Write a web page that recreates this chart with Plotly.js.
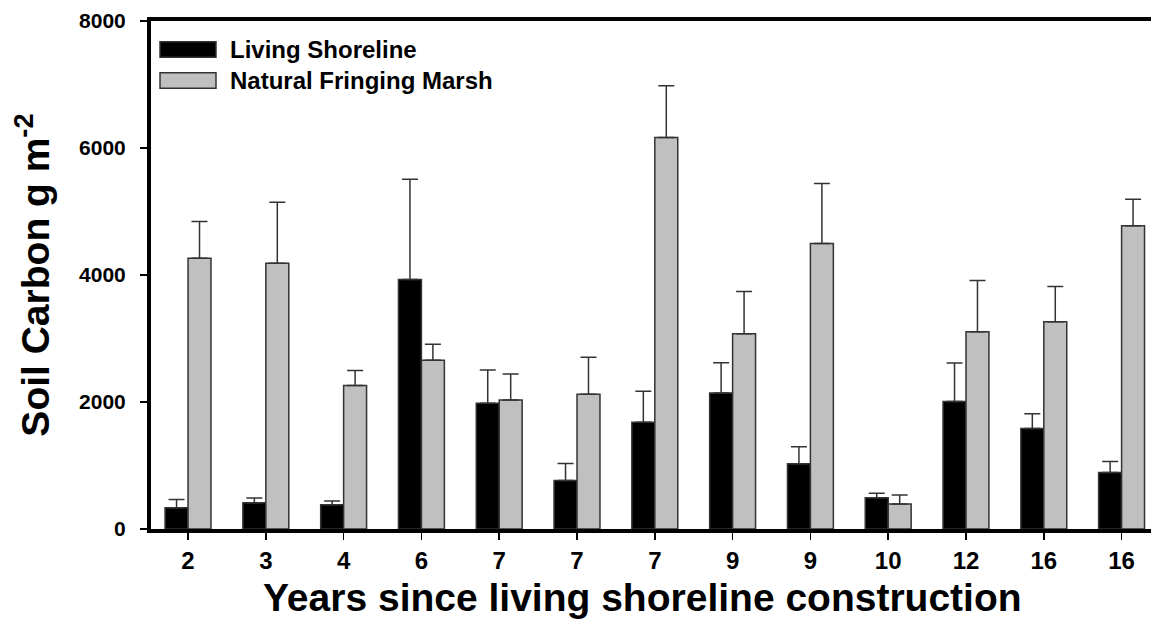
<!DOCTYPE html>
<html>
<head>
<meta charset="utf-8">
<script src="https://cdn.plot.ly/plotly-3.0.1.min.js"></script>
<style>html,body{margin:0;padding:0;background:#fff;}#chart{width:1151px;height:623px;}</style>
</head>
<body>
<div id="chart"></div>
<script>
var years = ['2','3','4','6','7','7','7','9','9','10','12','16','16'];
var livingShoreline = [335, 413, 382, 3930, 1981, 765, 1682, 2143, 1027, 492, 2007, 1583, 891];
var livingShorelineErr = [130, 75, 60, 1577, 523, 268, 487, 477, 267, 70, 607, 230, 173];
var naturalMarsh = [4265, 4186, 2259, 2657, 2033, 2122, 6167, 3076, 4496, 393, 3108, 3265, 4774];
var naturalMarshErr = [577, 960, 236, 251, 409, 582, 813, 665, 943, 141, 806, 555, 418];
var seriesNames = ['Living Shoreline', 'Natural Fringing Marsh'];
var yTicks = [0, 2000, 4000, 6000, 8000];

var xIdx = years.map(function(_, i){ return i; });
var zeros = years.map(function(){ return 0; });
var FONT = 'Liberation Sans, Arial, Helvetica, sans-serif';

var traces = [
  {type:'bar', name:seriesNames[0], x:xIdx, y:livingShoreline,
   marker:{color:'#000000', line:{color:'#333333', width:1.5}},
   error_y:{type:'data', symmetric:false, array:livingShorelineErr, arrayminus:zeros, color:'#333333', thickness:1.5, width:8},
   showlegend:false, hoverinfo:'y'},
  {type:'bar', name:seriesNames[1], x:xIdx, y:naturalMarsh,
   marker:{color:'#c0c0c0', line:{color:'#333333', width:1.5}},
   error_y:{type:'data', symmetric:false, array:naturalMarshErr, arrayminus:zeros, color:'#333333', thickness:1.5, width:8},
   showlegend:false, hoverinfo:'y'}
];

var layout = {
  width:1151, height:623,
  margin:{l:151, r:0, t:21, b:94},
  paper_bgcolor:'#ffffff', plot_bgcolor:'#ffffff',
  barmode:'group', bargap:0.41, bargroupgap:0,
  showlegend:false,
  font:{family:FONT, color:'#000000'},
  xaxis:{
    range:[-0.476, 12.378], tickmode:'array', tickvals:xIdx, ticktext:years,
    showgrid:false, zeroline:false, showline:true, linecolor:'#000000', linewidth:4, mirror:true,
    ticks:'outside', ticklen:7, tickwidth:1.5, tickcolor:'#000000',
    tickfont:{family:FONT, size:24, weight:'bold', color:'#000000'}
  },
  yaxis:{
    range:[0, 8000], tickmode:'array', tickvals:yTicks,
    showgrid:false, zeroline:false, showline:true, linecolor:'#000000', linewidth:4,
    ticks:'outside', ticklen:7, tickwidth:1.5, tickcolor:'#000000',
    tickfont:{family:FONT, size:21, weight:'bold', color:'#000000'},
    ticklabelstandoff:10,
    title:{text:'Soil Carbon g m<sup>-2</sup>', font:{family:FONT, size:39, weight:'bold', color:'#000000'}, standoff:18}
  },
  shapes:[
    {type:'rect', xref:'paper', yref:'paper', x0:0.009, x1:0.065, y0:0.9285, y1:0.959, fillcolor:'#000000', line:{color:'#333333', width:1.5}},
    {type:'rect', xref:'paper', yref:'paper', x0:0.009, x1:0.065, y0:0.8675, y1:0.898, fillcolor:'#c0c0c0', line:{color:'#333333', width:1.5}}
  ],
  annotations:[
    {xref:'paper', yref:'paper', x:0.077, y:0.9439, xanchor:'left', yanchor:'middle', showarrow:false, text:seriesNames[0], font:{family:FONT, size:24, weight:'bold', color:'#000000'}},
    {xref:'paper', yref:'paper', x:0.077, y:0.8829, xanchor:'left', yanchor:'middle', showarrow:false, text:seriesNames[1], font:{family:FONT, size:24, weight:'bold', color:'#000000'}},
    {xref:'paper', yref:'paper', x:0.491, y:-0.134, xanchor:'center', yanchor:'middle', showarrow:false, text:'Years since living shoreline construction', font:{family:FONT, size:39, weight:'bold', color:'#000000'}}
  ]
};

Plotly.newPlot('chart', traces, layout, {displayModeBar:false, staticPlot:true});
</script>
</body>
</html>
